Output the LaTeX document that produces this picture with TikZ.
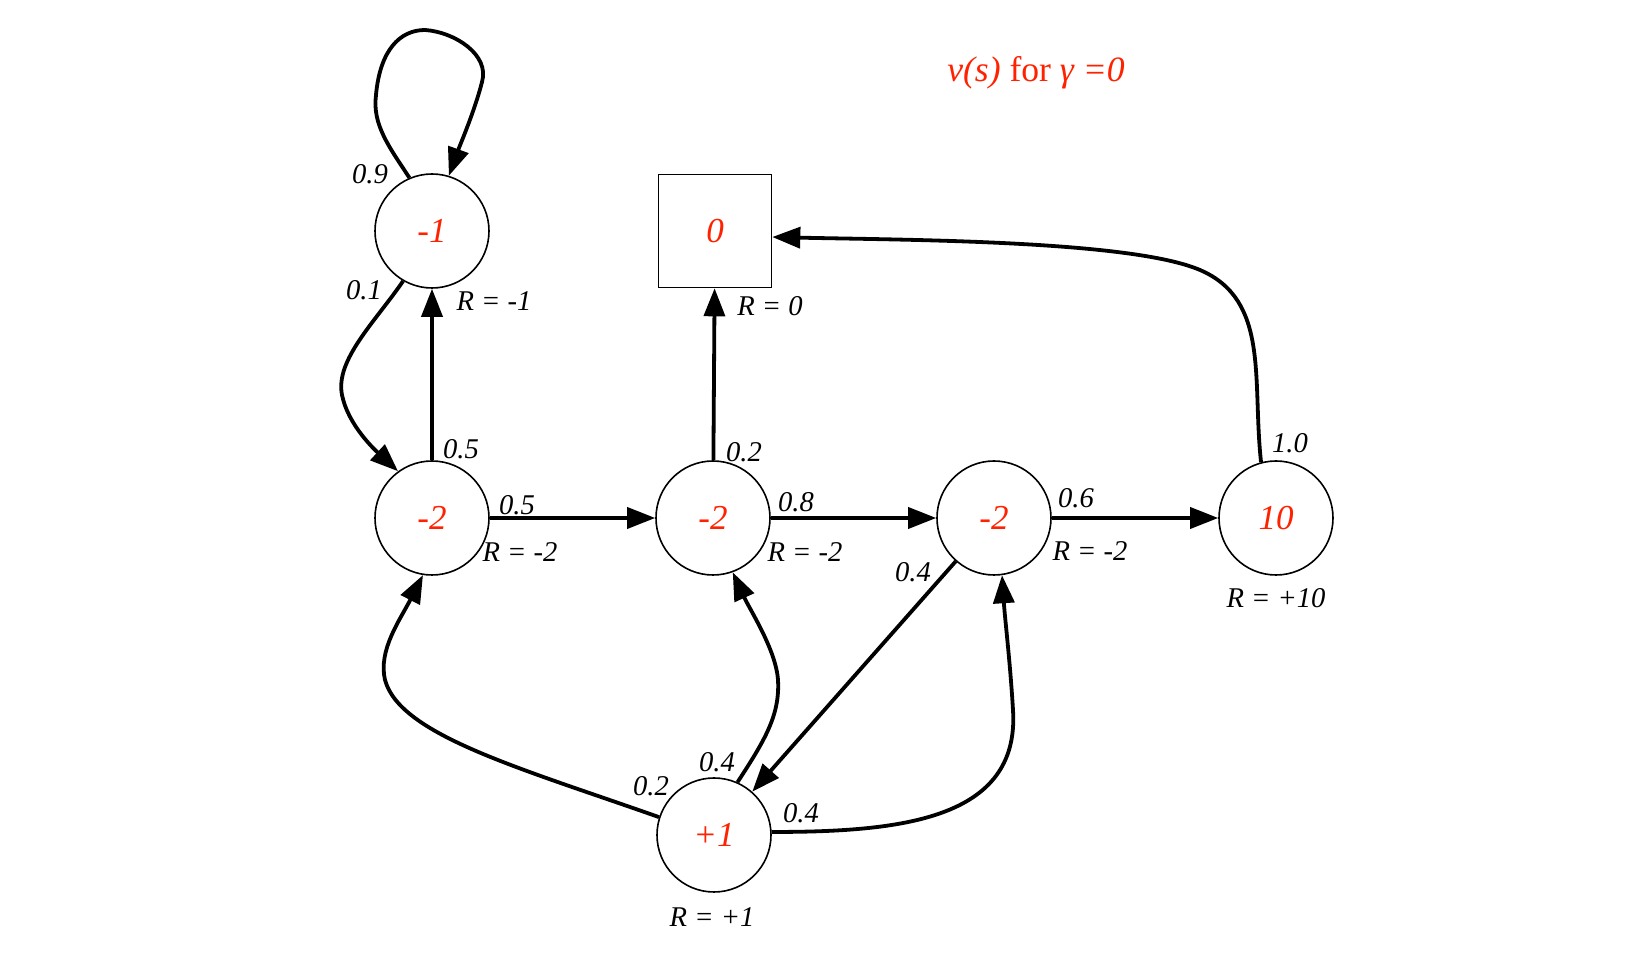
\documentclass[tikz,border=0pt]{standalone}
\usepackage{fontspec}
\setmainfont{Liberation Serif}
\usetikzlibrary{arrows.meta}
\definecolor{valred}{RGB}{255,34,0}
\begin{document}
\begin{tikzpicture}[x=0.5pt,y=-0.5pt,
  state/.style={circle,draw,line width=0.8pt,minimum size=57pt,inner sep=0pt,text=valred,font=\fontsize{17.5}{20}\selectfont\itshape},
  term/.style={rectangle,draw,line width=0.8pt,minimum size=56.5pt,inner sep=0pt,text=valred,font=\fontsize{17.5}{20}\selectfont\itshape},
  edge/.style={line width=1.9pt,-{Triangle[length=14pt,width=10.5pt]}},
  lbl/.style={font=\fontsize{14.3}{16}\selectfont\itshape,inner sep=0pt},
  ttl/.style={font=\fontsize{17.8}{20}\selectfont,text=valred,inner sep=0pt}
]
\useasboundingbox (0,0) rectangle (1645,961);

% nodes
\node[state] (s1) at (432,231) {-1};
\node[term]  (sq) at (715,231) {0};
\node[state] (s2) at (432,518) {-2};
\node[state] (s3) at (713,518) {-2};
\node[state] (s4) at (994,518) {-2};
\node[state] (s5) at (1276,518) {10};
\node[state] (s6) at (714,835) {+1};

% title
\node[ttl] (title) at (1036,73) {\itshape v(s)\upshape{} for \itshape γ =0};

% straight edges
\draw[edge] (s2) -- (s1);
\draw[edge] (s2) -- (s3);
\draw[edge] (s3) -- (sq);
\draw[edge] (s3) -- (s4);
\draw[edge] (s4) -- (s5);
\draw[edge] (s4) -- (s6);

% curved edges
\draw[edge] (s1.113) .. controls (390,148) and (372,125) .. (376,95)
  .. controls (380,50) and (400,30) .. (425,30)
  .. controls (455,32) and (490,55) .. (482,82)
  .. controls (475,110) and (460,145) .. (s1.73);
\draw[edge] (s1.240) .. controls (375,322) and (335,360) .. (342,395)
  .. controls (348,425) and (375,450) .. (s2.126);
\draw[edge] (s6.162) .. controls (520,768) and (400,735) .. (385,680)
  .. controls (378,650) and (400,620) .. (s2.261);
\draw[edge] (s6.66) .. controls (765,740) and (780,715) .. (778,680)
  .. controls (776,650) and (750,610) .. (s3.-70);
\draw[edge] (s6.3) .. controls (900,832) and (1020,820) .. (1013,710)
  .. controls (1010,660) and (1005,620) .. (s4.-82);
\draw[edge] (s5.105) .. controls (1252,380) and (1270,300) .. (1200,270)
  .. controls (1130,240) and (900,240) .. (sq.-6);

% probability labels
\node[lbl] (p09) at (370,174) {0.9};
\node[lbl] (p01) at (364,290) {0.1};
\node[lbl] (p05a) at (461,449) {0.5};
\node[lbl] (p05b) at (517,505) {0.5};
\node[lbl] (p02a) at (744,452) {0.2};
\node[lbl] (p08) at (796,502) {0.8};
\node[lbl] (p06) at (1076,498) {0.6};
\node[lbl] (p04a) at (913,572) {0.4};
\node[lbl] (p10) at (1290,443) {1.0};
\node[lbl] (p02b) at (651,786) {0.2};
\node[lbl] (p04b) at (717,762) {0.4};
\node[lbl] (p04c) at (801,813) {0.4};

% reward labels
\node[lbl] (r1) at (494,301) {R = -1};
\node[lbl] (r0) at (770,306) {R = 0};
\node[lbl] (r2) at (520,552) {R = -2};
\node[lbl] (r3) at (805,552) {R = -2};
\node[lbl] (r4) at (1090,551) {R = -2};
\node[lbl] (r5) at (1276,598) {R = +10};
\node[lbl] (r6) at (712,917) {R = +1};
\end{tikzpicture}
\end{document}
